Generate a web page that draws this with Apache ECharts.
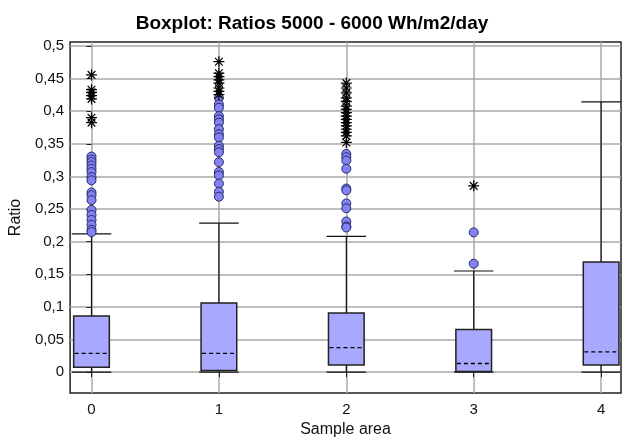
<!DOCTYPE html>
<html>
<head>
<meta charset="utf-8">
<script src="https://cdn.jsdelivr.net/npm/echarts@6/dist/echarts.min.js"></script>
<style>
    html, body { margin: 0; padding: 0; background: #fff; }
    #chart { width: 624px; height: 443px; }
</style>
</head>
<body>
<div id="chart"></div>
<script>
// sample areas on the x axis
var categories = [0, 1, 2, 3, 4];

// box statistics per sample area
var whiskerLow = [0, 0, 0, 0, 0];
var q1 = [0.0076, 0.0026, 0.0111, 0.001, 0.0111];
var median = [0.0288, 0.0288, 0.0374, 0.0132, 0.0309];
var q3 = [0.0859, 0.106, 0.0905, 0.0652, 0.1688];
var whiskerHigh = [0.212, 0.2283, 0.2082, 0.155, 0.4142];

// outliers (circles) and extreme values (stars)
var outliers = [
    [0.3305, 0.3258, 0.3218, 0.3167, 0.3117, 0.3066, 0.299, 0.294, 0.2753, 0.2712, 0.2636, 0.2485, 0.241, 0.2333, 0.2258, 0.2182, 0.2147],
    [0.4203, 0.4102, 0.4052, 0.3924, 0.3874, 0.3824, 0.3723, 0.3647, 0.3597, 0.347, 0.342, 0.337, 0.3218, 0.3067, 0.3015, 0.289, 0.2764, 0.2688],
    [0.3344, 0.3294, 0.3242, 0.3117, 0.2814, 0.2786, 0.2586, 0.2511, 0.2309, 0.2233, 0.2217],
    [0.2142, 0.1662],
    []
];
var extremes = [
    [0.4556, 0.4329, 0.4288, 0.4238, 0.4188, 0.39, 0.3824],
    [0.4758, 0.4582, 0.453, 0.448, 0.443, 0.4355, 0.4303, 0.4253],
    [0.443, 0.4355, 0.428, 0.4203, 0.415, 0.4076, 0.4026, 0.3976, 0.3924, 0.3874, 0.3824, 0.3773, 0.3723, 0.3674, 0.3621, 0.352],
    [0.2855],
    []
];

// tick labels
var yTicks = [0, 0.05, 0.1, 0.15, 0.2, 0.25, 0.3, 0.35, 0.4, 0.45, 0.5];

var boxData = categories.map(function (c, i) {
    return [c, whiskerLow[i], q1[i], median[i], q3[i], whiskerHigh[i]];
});

function points(list) {
    var out = [];
    list.forEach(function (vals, i) {
        vals.forEach(function (v) {
            out.push([categories[i], v]);
        });
    });
    return out;
}

var BOX_W = 0.28;
var CAP_W = 0.31;
var FONT = '"Liberation Sans", Arial, sans-serif';

function renderBox(params, api) {
    var x = api.value(0);
    var low = api.coord([x, api.value(1)]);
    var b1 = api.coord([x, api.value(2)]);
    var med = api.coord([x, api.value(3)]);
    var b3 = api.coord([x, api.value(4)]);
    var high = api.coord([x, api.value(5)]);
    var bw = api.size([BOX_W, 0])[0];
    var cw = api.size([CAP_W, 0])[0];
    var cx = low[0];
    var line = { stroke: '#111', lineWidth: 1.2 };
    return {
        type: 'group',
        children: [
            { type: 'line', shape: { x1: cx, y1: low[1], x2: cx, y2: high[1] }, style: line },
            { type: 'line', shape: { x1: cx - cw / 2, y1: low[1], x2: cx + cw / 2, y2: low[1] }, style: line },
            { type: 'line', shape: { x1: cx - cw / 2, y1: high[1], x2: cx + cw / 2, y2: high[1] }, style: line },
            {
                type: 'rect',
                shape: { x: cx - bw / 2, y: b3[1], width: bw, height: b1[1] - b3[1] },
                style: { fill: '#a8a8ff', stroke: '#222', lineWidth: 1.5 }
            },
            {
                type: 'line',
                shape: { x1: cx - bw / 2 + 1, y1: med[1], x2: cx + bw / 2 - 1, y2: med[1] },
                style: { stroke: '#000', lineWidth: 1.3, lineDash: [4, 3] }
            }
        ]
    };
}

var chart = echarts.init(document.getElementById('chart'));
chart.setOption({
    backgroundColor: '#fff',
    animation: false,
    title: {
        text: 'Boxplot: Ratios 5000 - 6000 Wh/m2/day',
        left: 'center',
        top: 9,
        textStyle: { fontFamily: FONT, fontSize: 19, fontWeight: 'bold', color: '#000' }
    },
    grid: {
        left: 68, right: 3, top: 42, bottom: 46,
        show: true, borderColor: '#222', borderWidth: 1.5, backgroundColor: 'transparent'
    },
    xAxis: {
        type: 'value',
        min: -0.168,
        max: 4.156,
        name: 'Sample area',
        nameLocation: 'middle',
        nameGap: 29,
        nameTextStyle: { fontFamily: FONT, fontSize: 16, color: '#111' },
        axisLine: { show: false },
        axisTick: { show: true, length: 5, customValues: categories, lineStyle: { color: '#222' } },
        axisLabel: {
            fontFamily: FONT, fontSize: 15, color: '#111', margin: 9,
            customValues: categories
        },
        splitLine: { show: true, customValues: categories, lineStyle: { color: '#a8a8a8', width: 1.5 } }
    },
    yAxis: {
        type: 'value',
        min: -0.032,
        max: 0.506,
        name: 'Ratio',
        nameLocation: 'middle',
        nameGap: 40,
        nameTextStyle: { fontFamily: FONT, fontSize: 16, color: '#111' },
        axisLine: { show: false },
        axisTick: { show: true, length: 5, customValues: yTicks, lineStyle: { color: '#222' } },
        axisLabel: {
            fontFamily: FONT, fontSize: 15, color: '#111', margin: 6,
            customValues: yTicks,
            formatter: function (v) {
                return String(Math.round(v * 1000) / 1000).replace('.', ',');
            }
        },
        splitLine: { show: true, customValues: yTicks, lineStyle: { color: '#a8a8a8', width: 1.5 } }
    },
    series: [
        {
            type: 'custom',
            renderItem: renderBox,
            encode: { x: 0, y: [1, 2, 3, 4, 5] },
            data: boxData,
            z: 2
        },
        {
            type: 'scatter',
            symbol: 'circle',
            symbolSize: 9,
            itemStyle: { color: '#8282f5', borderColor: '#2a2a66', borderWidth: 1, opacity: 1 },
            data: points(outliers),
            z: 3
        },
        {
            type: 'scatter',
            symbol: 'path://M0,5L10,5M5,0L5,10M1.5,1.5L8.5,8.5M8.5,1.5L1.5,8.5',
            symbolSize: 11,
            itemStyle: { color: 'transparent', borderColor: '#000', borderWidth: 1.2, opacity: 1 },
            data: points(extremes),
            z: 4
        }
    ]
});
</script>
</body>
</html>
